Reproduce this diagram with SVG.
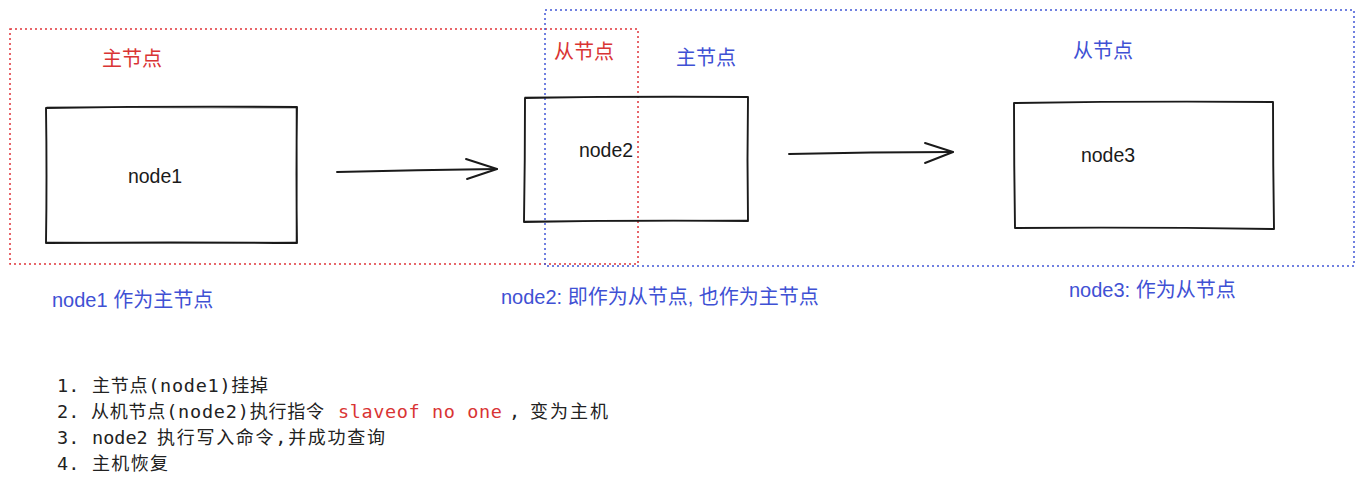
<svg xmlns="http://www.w3.org/2000/svg" width="1364" height="488" viewBox="0 0 1364 488">
<style>
.bg{fill:#ffffff}
.grp-red{fill:none;stroke:#e0353a;stroke-width:1.5;stroke-dasharray:2 3}
.grp-blue{fill:none;stroke:#4257d6;stroke-width:1.5;stroke-dasharray:2 3}
.box{fill:none;stroke:#1a1a1a;stroke-width:1.9;stroke-linejoin:round;stroke-linecap:round}
.box2{fill:none;stroke:#1a1a1a;stroke-width:0.8;stroke-linecap:round;opacity:0.7}
.conn{fill:none;stroke:#1a1a1a;stroke-width:1.9;stroke-linecap:round;stroke-linejoin:round}
.lbl{font-family:"Liberation Sans","Noto Sans CJK SC",sans-serif;font-size:20px}
.red{fill:#d93434}
.blue{fill:#3f51d4}
.nodetxt{font-family:"Liberation Sans",sans-serif;font-size:19.5px;fill:#1a1a1a;text-anchor:middle}
.list{font-family:"DejaVu Sans Mono","Noto Sans CJK SC",monospace;font-size:18px;fill:#222222}
.lat{font-size:18.5px}
.code{fill:#d93434}
</style>
<rect class="bg" x="0" y="0" width="1364" height="488"/>

<g id="group-node1-master">
<rect class="grp-red" x="10" y="29" width="628" height="235"/>
<text class="lbl red" x="102" y="66">主节点</text>
</g>

<g id="group-node2-node3">
<rect class="grp-blue" x="545" y="10" width="809" height="256"/>
<text class="lbl red" x="554" y="59">从节点</text>
<text class="lbl blue" x="676" y="65">主节点</text>
<text class="lbl blue" x="1073" y="58">从节点</text>
</g>

<g id="node1">
<path class="box" d="M46,108 Q170,106 297,107 Q296,175 297,243 Q170,242 46,243 Q47,175 46,108 Z"/>
<path class="box2" d="M47,107 Q170,108 296,108 M296,108 Q298,175 296,242 M47,242 Q170,244 296,242"/>
<text class="nodetxt" x="155" y="183">node1</text>
</g>

<g id="node2">
<path class="box" d="M525,98 Q636,96 748,97 Q747,160 748,221 Q636,220 524,222 Q525,160 525,98 Z"/>
<path class="box2" d="M525,97 Q636,98 747,97 M524,221 Q636,222 747,220"/>
<text class="nodetxt" x="606" y="157">node2</text>
</g>

<g id="node3">
<path class="box" d="M1014,103 Q1144,101 1273,102 Q1273,165 1274,229 Q1144,227 1015,228 Q1014,165 1014,103 Z"/>
<text class="nodetxt" x="1108" y="162">node3</text>
</g>

<g id="connectors">
<path class="conn" d="M337,172 Q417,170 497,169"/>
<path class="conn" d="M466,159 L497,169 L467,179"/>
<path class="conn" d="M789,154 Q871,152 953,152"/>
<path class="conn" d="M925,143 L953,152 L925,163"/>
</g>

<g id="captions">
<text class="lbl blue" x="52" y="307">node1 作为主节点</text>
<text class="lbl blue" x="501" y="304">node2: 即作为从节点, 也作为主节点</text>
<text class="lbl blue" x="1069" y="297">node3: 作为从节点</text>
</g>

<g id="steps">
<text class="list lat" x="57" y="392">1.</text>
<text class="list" x="92" y="392" textLength="176" lengthAdjust="spacing">主节点<tspan class="lat">(node1)</tspan>挂掉</text>
<text class="list lat" x="57" y="418">2.</text>
<text class="list" x="91" y="418" textLength="233" lengthAdjust="spacing">从机节点<tspan class="lat">(node2)</tspan>执行指令</text>
<text class="list lat code" x="338" y="418" textLength="164" lengthAdjust="spacing">slaveof no one</text>
<text class="list lat" x="509" y="418">,</text>
<text class="list" x="530" y="418" textLength="78" lengthAdjust="spacing">变为主机</text>
<text class="list lat" x="57" y="444">3.</text>
<text class="list lat" x="92" y="444">node2</text>
<text class="list" x="157" y="444" textLength="228" lengthAdjust="spacing">执行写入命令<tspan class="lat">,</tspan>并成功查询</text>
<text class="list lat" x="57" y="470">4.</text>
<text class="list" x="92" y="470" textLength="76" lengthAdjust="spacing">主机恢复</text>
</g>
</svg>
